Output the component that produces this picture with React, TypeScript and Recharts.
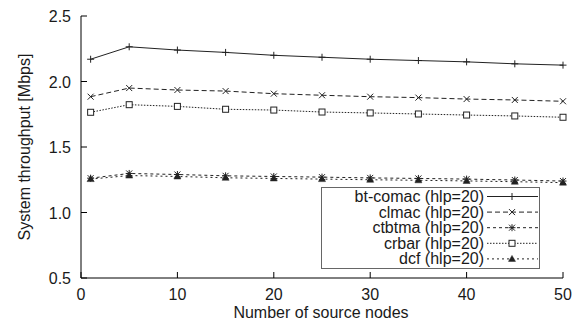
import React from "react";
import { LineChart, Line, XAxis, YAxis, Legend } from "recharts";

const nodes = [1, 5, 10, 15, 20, 25, 30, 35, 40, 45, 50];
const btComac = [2.17, 2.265, 2.24, 2.222, 2.2, 2.185, 2.17, 2.16, 2.15, 2.135, 2.125];
const clmac = [1.884, 1.95, 1.935, 1.927, 1.907, 1.895, 1.884, 1.877, 1.866, 1.859, 1.849];
const ctbtma = [1.262, 1.298, 1.29, 1.28, 1.275, 1.27, 1.264, 1.26, 1.255, 1.248, 1.24];
const crbar = [1.765, 1.823, 1.81, 1.788, 1.782, 1.767, 1.76, 1.752, 1.744, 1.737, 1.727];
const dcf = [1.255, 1.282, 1.275, 1.265, 1.26, 1.255, 1.25, 1.246, 1.241, 1.235, 1.228];

const xTicks = [0, 10, 20, 30, 40, 50];
const yTicks = [0.5, 1.0, 1.5, 2.0, 2.5];

const seriesNames = [
  "bt-comac (hlp=20)",
  "clmac (hlp=20)",
  "ctbtma (hlp=20)",
  "crbar (hlp=20)",
  "dcf (hlp=20)",
];

const data = nodes.map((n, i) => ({
  n,
  btComac: btComac[i],
  clmac: clmac[i],
  ctbtma: ctbtma[i],
  crbar: crbar[i],
  dcf: dcf[i],
}));

const FONT = '"Liberation Sans", Arial, Helvetica, sans-serif';
const TEXT = "#1a1a1a";
const LINE = "#222";

type MarkerKind = "plus" | "cross" | "star" | "square" | "triangle";

function Marker({ kind, cx, cy }: { kind: MarkerKind; cx: number; cy: number }) {
  const s = 3.5;
  if (kind === "plus")
    return (
      <g stroke={LINE} strokeWidth={1}>
        <line x1={cx - s} y1={cy} x2={cx + s} y2={cy} />
        <line x1={cx} y1={cy - s} x2={cx} y2={cy + s} />
      </g>
    );
  if (kind === "cross")
    return (
      <g stroke={LINE} strokeWidth={1}>
        <line x1={cx - 3} y1={cy - 3} x2={cx + 3} y2={cy + 3} />
        <line x1={cx - 3} y1={cy + 3} x2={cx + 3} y2={cy - 3} />
      </g>
    );
  if (kind === "star")
    return (
      <g stroke={LINE} strokeWidth={1}>
        <line x1={cx - s} y1={cy} x2={cx + s} y2={cy} />
        <line x1={cx} y1={cy - s} x2={cx} y2={cy + s} />
        <line x1={cx - 3} y1={cy - 3} x2={cx + 3} y2={cy + 3} />
        <line x1={cx - 3} y1={cy + 3} x2={cx + 3} y2={cy - 3} />
      </g>
    );
  if (kind === "square")
    return <rect x={cx - 3} y={cy - 3} width={6} height={6} fill="#fff" stroke={LINE} strokeWidth={1} />;
  return (
    <polygon
      points={`${cx},${cy - 3.5} ${cx - 3.5},${cy + 2.5} ${cx + 3.5},${cy + 2.5}`}
      fill={LINE}
      stroke={LINE}
      strokeWidth={0.5}
    />
  );
}

const seriesDefs: { key: string; dash?: string; marker: MarkerKind }[] = [
  { key: "btComac", dash: undefined, marker: "plus" },
  { key: "clmac", dash: "5 3", marker: "cross" },
  { key: "ctbtma", dash: "3 3", marker: "star" },
  { key: "crbar", dash: "1.5 1.5", marker: "square" },
  { key: "dcf", dash: "2 3", marker: "triangle" },
];

const BottomTick = (props: any) => {
  const { x, y, payload } = props;
  return (
    <g>
      <line x1={x} y1={y} x2={x} y2={y - 6} stroke="#000" />
      <text x={x} y={y + 22} textAnchor="middle" fill={TEXT} fontSize={16} fontFamily={FONT}>
        {payload.value}
      </text>
    </g>
  );
};

const TopTick = (props: any) => {
  const { x, y } = props;
  return <line x1={x} y1={y} x2={x} y2={y + 6} stroke="#000" />;
};

const LeftTick = (props: any) => {
  const { x, y, payload } = props;
  return (
    <g>
      <line x1={x} y1={y} x2={x + 6} y2={y} stroke="#000" />
      <text x={x - 10} y={y + 6} textAnchor="end" fill={TEXT} fontSize={16} fontFamily={FONT}>
        {Number(payload.value).toFixed(1)}
      </text>
    </g>
  );
};

const RightTick = (props: any) => {
  const { x, y } = props;
  return <line x1={x} y1={y} x2={x - 6} y2={y} stroke="#000" />;
};

const LegendBox = () => {
  const rowH = 15.6;
  return (
    <svg width={219} height={82} style={{ display: "block" }}>
      <rect x={0.5} y={0.5} width={218} height={81} fill="#fff" stroke="#666" />
      {seriesDefs.map((s, i) => {
        const cy = 9.5 + i * rowH;
        return (
          <g key={s.key}>
            <text x={163} y={cy + 5.5} textAnchor="end" fill={TEXT} fontSize={16} fontFamily={FONT}>
              {seriesNames[i]}
            </text>
            <line x1={166} y1={cy} x2={217} y2={cy} stroke={LINE} strokeDasharray={s.dash} />
            <Marker kind={s.marker} cx={191} cy={cy} />
          </g>
        );
      })}
    </svg>
  );
};

export default function App() {
  return (
    <div style={{ position: "absolute", left: 0, top: 0, width: 587, height: 328, background: "#fff" }}>
      <LineChart
        width={587}
        height={328}
        data={data}
        margin={{ top: 16, right: 24, bottom: 0, left: 0 }}
      >
        <XAxis
          dataKey="n"
          type="number"
          domain={[0, 50]}
          ticks={xTicks}
          tickSize={0}
          tickMargin={0}
          tick={<BottomTick />}
          axisLine={{ stroke: "#000" }}
          height={50}
          interval={0}
          label={{
            content: () => (
              <text x={321} y={318} textAnchor="middle" fill={TEXT} fontSize={16} fontFamily={FONT}>
                Number of source nodes
              </text>
            ),
          }}
        />
        <XAxis
          xAxisId="top"
          orientation="top"
          dataKey="n"
          type="number"
          domain={[0, 50]}
          ticks={xTicks}
          tickSize={0}
          tickMargin={0}
          tick={<TopTick />}
          axisLine={{ stroke: "#000" }}
          height={0}
          interval={0}
        />
        <YAxis
          type="number"
          domain={[0.5, 2.5]}
          ticks={yTicks}
          tickSize={0}
          tickMargin={0}
          tick={<LeftTick />}
          axisLine={{ stroke: "#000" }}
          width={81}
          interval={0}
          label={{
            content: () => (
              <text
                x={30}
                y={147}
                transform="rotate(-90 30 147)"
                textAnchor="middle"
                fill={TEXT}
                fontSize={16}
                fontFamily={FONT}
              >
                System throughput [Mbps]
              </text>
            ),
          }}
        />
        <YAxis
          yAxisId="right"
          orientation="right"
          type="number"
          domain={[0.5, 2.5]}
          ticks={yTicks}
          tickSize={0}
          tickMargin={0}
          tick={<RightTick />}
          axisLine={{ stroke: "#000" }}
          width={0}
          interval={0}
        />
        {seriesDefs.map((s) => (
          <Line
            key={s.key}
            dataKey={s.key}
            type="linear"
            stroke={LINE}
            strokeWidth={1}
            strokeDasharray={s.dash}
            isAnimationActive={false}
            dot={(p: any) => <Marker key={`${s.key}-${p.index}`} kind={s.marker} cx={p.cx} cy={p.cy} />}
            activeDot={false}
          />
        ))}
        <Legend
          layout="vertical"
          align="center"
          verticalAlign="middle"
          content={() => <LegendBox />}
          wrapperStyle={{ position: "absolute", left: 321, top: 187, width: 219, height: 82, margin: 0 }}
        />
      </LineChart>
    </div>
  );
}
